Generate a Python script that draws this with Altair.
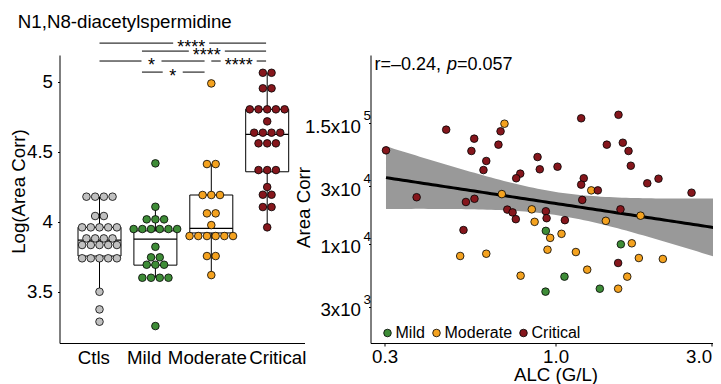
import numpy as np
import pandas as pd
import altair as alt

FONT = "Liberation Sans"

# ---------------- Left panel: log10(Area Corr) per group ----------------
group_names = ["Ctls", "Mild", "Moderate", "Critical"]
group_colors = ["#C0C0C0", "#3E8C37", "#F4A21F", "#85161C"]

ctls_vals = [4.179, 4.179, 4.179, 4.179, 4.041, 4.041,
             3.960, 3.960, 3.960, 3.960, 3.960,
             3.881, 3.881, 3.881, 3.881,
             3.834, 3.834, 3.834, 3.834, 3.834,
             3.739, 3.739, 3.739, 3.739, 3.739,
             3.500, 3.374, 3.286]
mild_vals = [4.417, 4.107, 4.017, 4.017, 4.017,
             3.948, 3.948, 3.948, 3.948, 3.948, 3.948,
             3.821, 3.746, 3.746, 3.693, 3.693, 3.693,
             3.600, 3.600, 3.600, 3.600, 3.255]
moderate_vals = [4.988, 4.412, 4.412, 4.191, 4.191, 4.191, 4.060, 4.060, 3.976,
                 3.898, 3.898, 3.898, 3.898, 3.898, 3.898, 3.755, 3.755, 3.619]
critical_vals = [5.064, 5.064, 4.953, 4.953,
                 4.803, 4.803, 4.803, 4.803, 4.803, 4.717,
                 4.636, 4.636, 4.636, 4.636, 4.560, 4.560, 4.560,
                 4.369, 4.369, 4.369, 4.248, 4.193, 4.193, 4.105, 4.105, 3.960]

# box statistics
box_lo = [3.500, 3.600, 3.619, 3.960]
box_q1 = [3.755, 3.690, 3.920, 4.357]
box_med = [3.869, 3.876, 3.953, 4.624]
box_q3 = [3.960, 3.935, 4.191, 4.803]
box_hi = [4.179, 4.107, 4.412, 5.064]

# significance brackets (group-axis units)
sig_from = [0.0, 0.76, 0.0, 2.0, 0.76]
sig_to = [2.98, 2.98, 1.88, 2.98, 1.88]
sig_y = [5.276, 5.219, 5.148, 5.148, 5.069]
sig_text_x = [1.64, 1.92, 0.93, 2.49, 1.31]
sig_lab = ["****", "****", "*", "****", "*"]

chart_title = "N1,N8-diacetylspermidine"

# ---------------- Right panel: ALC vs Area Corr ----------------
critical_alc = [0.303, 0.463, 0.564, 0.553, 0.614, 0.602, 0.376, 0.532, 0.565, 0.523,
                1.198, 0.679, 0.669, 1.435, 0.881, 0.895, 1.014, 0.780, 0.758, 1.220,
                1.198, 1.347, 1.207, 0.712, 0.739, 0.756, 0.934, 0.939, 1.068, 1.558,
                1.606, 1.672, 1.699, 1.908, 2.065, 2.606, 1.580, 1.554]
critical_area = [59400, 88100, 74200, 58700, 48500, 40800, 24300, 22200, 23600, 13000,
                 109400, 85400, 66200, 66200, 52300, 41400, 43500, 38100, 34900, 34900,
                 30900, 27700, 23100, 19200, 18200, 16000, 18600, 16300, 15700, 117000,
                 68700, 58700, 44300, 31700, 34600, 26500, 19300, 6940]
moderate_alc = [0.511, 0.614, 0.698, 1.286, 0.685, 0.846, 0.863, 1.425, 0.963, 1.043,
                0.945, 1.154, 0.782, 1.250, 1.820, 3.158, 1.711, 1.798, 2.129, 1.657, 1.554]
moderate_area = [7930, 8280, 98700, 27700, 25800, 19300, 15200, 15500, 11200, 12100,
                 8940, 8550, 5450, 6110, 17100, 16100, 10100, 7630, 7490, 5350, 4250]
mild_alc = [0.934, 1.065, 0.932, 1.366, 1.584]
mild_area = [12800, 5350, 4020, 4250, 9910]

scatter_groups = ["Mild", "Moderate", "Critical"]
scatter_colors = ["#3E8C37", "#F4A21F", "#85161C"]

y_tick_vals = [3000, 10000, 30000, 100000]
y_tick_mant = ["3x10", "1x10", "3x10", "1.5x10"]
y_tick_exp = ["3", "4", "4", "5"]
x_tick_vals = [0.3, 1.0, 3.0]

r_text = "r=\u20130.24, "
p_text = "p"
pval_text = "=0.057"

# ---------------- layout constants ----------------
LW, LH = 245, 288
RW, RH = 369, 288
STEP_PX = 55.9
DOT_STEP = 8.7 / STEP_PX
BOX_HALF = 21.5 / STEP_PX
DOT_SIZE = 58

# ---------------- build left data ----------------
def swarm_offsets(vals, step):
    counts = {}
    for v in vals:
        counts[v] = counts.get(v, 0) + 1
    seen = {}
    offs = []
    for v in vals:
        i = seen.get(v, 0)
        seen[v] = i + 1
        offs.append((i - (counts[v] - 1) / 2.0) * step)
    return offs

dot_rows = []
for gi, vals in enumerate([ctls_vals, mild_vals, moderate_vals, critical_vals]):
    for v, o in zip(vals, swarm_offsets(vals, DOT_STEP)):
        dot_rows.append({"pos": gi + o, "val": v, "color": group_colors[gi]})
dots_df = pd.DataFrame(dot_rows)

box_df = pd.DataFrame({
    "pos": list(range(4)),
    "x1": [i - BOX_HALF for i in range(4)],
    "x2": [i + BOX_HALF for i in range(4)],
    "lo": box_lo, "q1": box_q1, "med": box_med, "q3": box_q3, "hi": box_hi,
})

gap_px = {"****": 18.0, "*": 10.0}
seg_rows, lab_rows = [], []
for a, b, y, tx, lab in zip(sig_from, sig_to, sig_y, sig_text_x, sig_lab):
    g = gap_px[lab] / STEP_PX
    seg_rows.append({"x1": a, "x2": tx - g, "y": y})
    seg_rows.append({"x1": tx + g, "x2": b, "y": y})
    lab_rows.append({"x": tx, "y": y, "lab": lab})
seg_df = pd.DataFrame(seg_rows)
lab_df = pd.DataFrame(lab_rows)

label_pos = [-0.11, 0.79, 1.92, 3.18]
xL = alt.Scale(domain=[-40 / STEP_PX, 205 / STEP_PX], nice=False, zero=False)
yL = alt.Scale(domain=[3.134, 5.191], nice=False, zero=False)

x_lab_expr = ("datum.value < 0.3 ? 'Ctls' : datum.value < 1.5 ? 'Mild' : "
              "datum.value < 2.5 ? 'Moderate' : 'Critical'")
x_axis_L = alt.Axis(values=label_pos, labelExpr=x_lab_expr, title=None, ticks=False,
                    labelPadding=5, labelOverlap=False, labelFlush=False, grid=False)
y_axis_L = alt.Axis(values=[3.5, 4, 4.5, 5], format="~g", title="Log(Area Corr)",
                    titleX=-35.5, titleY=136, titleAngle=270, titleBaseline="alphabetic",
                    tickSize=2, labelPadding=5, grid=False, labelFlush=False)

# invisible anchor fixing the left edge of the layout
anchor = alt.Chart(pd.DataFrame({"a": [0]})).mark_rule(strokeOpacity=0, strokeWidth=1).encode(
    x=alt.value(-58), y=alt.value(100), y2=alt.value(110))

whisk = alt.Chart(box_df).mark_rule(color="black", strokeWidth=1).encode(
    x=alt.X("pos:Q", scale=xL, axis=x_axis_L),
    y=alt.Y("lo:Q", scale=yL, axis=y_axis_L),
    y2="hi:Q",
)
box = alt.Chart(box_df).mark_rect(fill="white", stroke="black", strokeWidth=1).encode(
    x=alt.X("x1:Q", scale=xL, axis=x_axis_L), x2="x2:Q",
    y=alt.Y("q1:Q", scale=yL, axis=y_axis_L), y2="q3:Q",
)
med = alt.Chart(box_df).mark_rule(color="black", strokeWidth=1.3).encode(
    x=alt.X("x1:Q", scale=xL, axis=x_axis_L), x2="x2:Q",
    y=alt.Y("med:Q", scale=yL, axis=y_axis_L),
)
dots = alt.Chart(dots_df).mark_circle(size=DOT_SIZE, opacity=1, stroke="black",
                                      strokeWidth=0.8).encode(
    x=alt.X("pos:Q", scale=xL, axis=x_axis_L),
    y=alt.Y("val:Q", scale=yL, axis=y_axis_L),
    color=alt.Color("color:N", scale=None),
)
sig_rules = alt.Chart(seg_df).mark_rule(color="black", strokeWidth=1).encode(
    x=alt.X("x1:Q", scale=xL, axis=x_axis_L), x2="x2:Q",
    y=alt.Y("y:Q", scale=yL, axis=y_axis_L),
)
sig_text = alt.Chart(lab_df).mark_text(font=FONT, fontSize=18, color="black",
                                       baseline="alphabetic", dy=10).encode(
    x=alt.X("x:Q", scale=xL, axis=x_axis_L),
    y=alt.Y("y:Q", scale=yL, axis=y_axis_L),
    text="lab:N",
)
title_mark = alt.Chart(pd.DataFrame({"t": [chart_title]})).mark_text(
    font=FONT, fontSize=18.7, color="black", align="left", baseline="alphabetic"
).encode(text="t:N", x=alt.value(-41.7), y=alt.value(-27))

left = alt.layer(anchor, whisk, box, med, dots, sig_rules, sig_text, title_mark).properties(
    width=LW, height=LH)

# ---------------- build right data ----------------
right_df = pd.DataFrame({
    "ALC": mild_alc + moderate_alc + critical_alc,
    "Area": mild_area + moderate_area + critical_area,
    "Group": ["Mild"] * len(mild_alc) + ["Moderate"] * len(moderate_alc)
             + ["Critical"] * len(critical_alc),
})

lx = np.log10(right_df["ALC"].to_numpy())
ly = np.log10(right_df["Area"].to_numpy())
n = len(lx)
slope, intercept = np.polyfit(lx, ly, 1)
resid = ly - (intercept + slope * lx)
s = np.sqrt(np.sum(resid ** 2) / (n - 2))
xm = lx.mean()
sxx = np.sum((lx - xm) ** 2)
grid = np.linspace(lx.min(), lx.max(), 80)
fit = intercept + slope * grid
se = s * np.sqrt(1.0 / n + (grid - xm) ** 2 / sxx)
tcrit = 1.999
fit_df = pd.DataFrame({
    "x": 10 ** grid, "y": 10 ** fit,
    "lo": 10 ** (fit - tcrit * se), "hi": 10 ** (fit + tcrit * se),
})

xR = alt.Scale(type="log", domain=[0.2717, 3.653], nice=False)
yR = alt.Scale(type="log", domain=[1510, 365700], nice=False)

y_lab_expr = " : ".join(
    [f"abs(datum.value - {v}) < 1 ? '{m}'" for v, m in zip(y_tick_vals[:-1], y_tick_mant[:-1])]
) + f" : '{y_tick_mant[-1]}'"

x_axis_R = alt.Axis(values=x_tick_vals, format=".1f", title="ALC (G/L)", titleX=185,
                    titleY=37.5, titleBaseline="alphabetic", tickSize=3, labelPadding=1,
                    labelAlign={"condition": {"test": "datum.value > 2.5", "value": "right"},
                                "value": "center"},
                    labelFlush=False, labelOverlap=False, grid=False)
y_axis_R = alt.Axis(values=y_tick_vals, labelExpr=y_lab_expr, title="Area Corr",
                    titleX=-61, titleY=152, titleAngle=270, titleBaseline="alphabetic",
                    tickSize=2, labelPadding=8, labelOffset=3, labelFlush=False,
                    labelOverlap=False, grid=False)

band = alt.Chart(fit_df).mark_area(color="#999999", opacity=1).encode(
    x=alt.X("x:Q", scale=xR, axis=x_axis_R),
    y=alt.Y("lo:Q", scale=yR, axis=y_axis_R), y2="hi:Q",
)
line = alt.Chart(fit_df).mark_line(color="black", strokeWidth=3).encode(
    x=alt.X("x:Q", scale=xR, axis=x_axis_R),
    y=alt.Y("y:Q", scale=yR, axis=y_axis_R),
)
pts = alt.Chart(right_df).mark_circle(size=DOT_SIZE, opacity=1, stroke="black",
                                      strokeWidth=0.8).encode(
    x=alt.X("ALC:Q", scale=xR, axis=x_axis_R),
    y=alt.Y("Area:Q", scale=yR, axis=y_axis_R),
    color=alt.Color("Group:N", scale=alt.Scale(domain=scatter_groups, range=scatter_colors),
                    legend=alt.Legend(title=None, orient="none", legendX=9, legendY=270,
                                      direction="horizontal", symbolType="circle",
                                      symbolSize=DOT_SIZE, symbolStrokeColor="black",
                                      symbolStrokeWidth=0.8, symbolOpacity=1,
                                      labelFont=FONT, labelFontSize=16, labelColor="black",
                                      labelOffset=0, columnPadding=3, padding=0)),
)

def txt(t, x, italic=False):
    return alt.Chart(pd.DataFrame({"t": [t]})).mark_text(
        font=FONT, fontSize=18, color="black", align="left", baseline="alphabetic",
        fontStyle="italic" if italic else "normal",
    ).encode(text="t:N", x=alt.value(x), y=alt.value(15))

exp_df = pd.DataFrame({"v": y_tick_vals, "e": y_tick_exp})
exps = alt.Chart(exp_df).mark_text(font=FONT, fontSize=13.5, color="black", align="left",
                                   baseline="middle", dy=-7).encode(
    x=alt.value(-7),
    y=alt.Y("v:Q", scale=yR, axis=y_axis_R),
    text="e:N",
)

right = alt.layer(band, line, pts, txt(r_text, 4), txt(p_text, 76.5, True),
                  txt(pval_text, 86.5), exps).properties(width=RW, height=RH)

# total SVG width kept at 705 px (page body width) so it is not scaled down
chart = alt.hconcat(left, right, spacing=66, bounds="flush").resolve_scale(
    color="independent"
).properties(
    padding={"left": -6.5, "top": 5, "right": -27, "bottom": 0}
).configure_view(stroke=None).configure_axis(
    domainColor="black", tickColor="black", labelColor="black", titleColor="black",
    labelFont=FONT, titleFont=FONT, labelFontSize=18.7, titleFontSize=18.7,
    titleFontWeight="normal", domainWidth=1, tickWidth=1,
)

chart.save("out.html", embed_options={"renderer": "svg", "actions": False})
